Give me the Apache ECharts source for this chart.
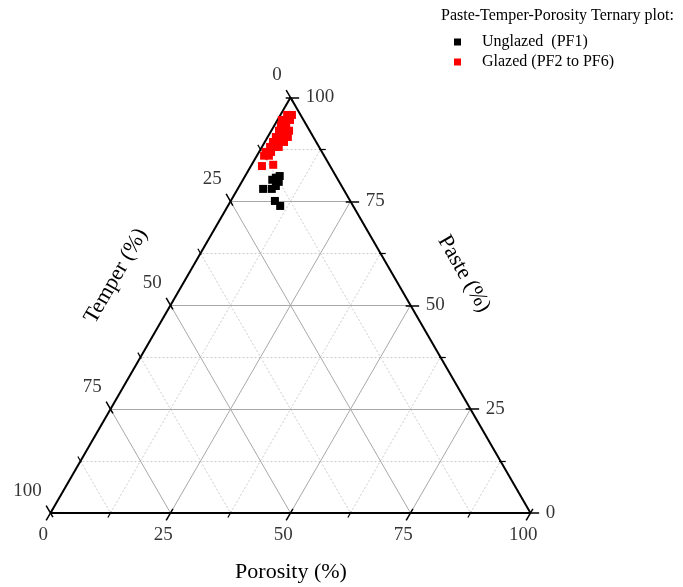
<!DOCTYPE html>
<html>
<head>
<meta charset="utf-8">
<script src="https://cdn.jsdelivr.net/npm/echarts@6/dist/echarts.min.js"></script>
<style>html,body{margin:0;padding:0;background:#fff}#c{width:683px;height:587px}</style>
</head>
<body>
<div id="c"></div>
<script>
// ---- data: [paste, temper, porosity] (%) ----
const unglazed = [
  [81.1,11.6,7.2],[80.2,13.8,6.1],[79.7,12.6,7.7],[80.7,12.7,6.6],[78.7,13.7,7.6],
  [78.0,14.9,7.1],[78.0,16.7,5.3],[75.1,15.7,9.2],[73.9,15.2,10.9]
];
const glazed = [
  [95.8,1.8,2.4],[95.8,2.8,1.4],[94.6,3.6,1.8],[94.6,2.8,2.6],[94.6,4.5,0.9],
  [93.2,5.4,1.4],[93.2,4.4,2.5],[92.0,6.4,1.6],[92.0,5.4,2.7],[92.0,4.3,3.7],
  [90.5,7.7,1.7],[90.5,6.7,2.8],[90.5,5.3,4.2],[89.3,9.0,1.7],[89.3,7.9,2.7],
  [89.3,6.7,4.0],[88.1,10.2,1.7],[88.1,9.2,2.7],[88.1,8.3,3.5],[86.9,11.7,1.4],
  [86.9,10.6,2.5],[86.0,12.5,1.5],[86.0,11.5,2.5],[83.5,14.2,2.3],[83.8,11.8,4.5]
];
const majorTicks = [0,25,50,75,100];
const minorTicks = [12.5,37.5,62.5,87.5];
const tickLabels = ['0','25','50','75','100'];
const seriesNames = ['Unglazed  (PF1)','Glazed (PF2 to PF6)'];

// ---- ternary -> cartesian data coords ----
const SQ = Math.sqrt(3)/2;
function tern(paste, temper, porosity){ return [porosity + paste/2, paste*SQ]; }

const FONT = 'Liberation Serif';
const inner = majorTicks.filter(v=>v>0&&v<100);

function gridLines(vals){
  const out=[];
  vals.forEach(v=>{
    out.push({coords:[tern(0,100-v,v), tern(100-v,0,v)]});      // const porosity
    out.push({coords:[tern(100-v,v,0), tern(0,v,100-v)]});      // const temper
    out.push({coords:[tern(v,0,100-v), tern(v,100-v,0)]});      // const paste
  });
  return out;
}
function ticks(vals, kin, kout){
  const out=[];
  vals.forEach(v=>{
    out.push({coords:[tern(kin,100-v-kin,v), tern(-kout,100-v+kout,v)]});
    out.push({coords:[tern(100-v-kin,v,kin), tern(100-v+kout,v,-kout)]});
    out.push({coords:[tern(v,kin,100-v-kin), tern(v,-kout,100-v+kout)]});
  });
  return out;
}
const edges = [
  {coords:[tern(0,100,0), tern(0,0,100)]},
  {coords:[tern(0,0,100), tern(100,0,0)]},
  {coords:[tern(100,0,0), tern(0,100,0)]}
];

const porLabels = majorTicks.map((v,i)=>({value:[v-1.5,-4.5], name:tickLabels[i]}));
const temLabels = majorTicks.map((v,i)=>{ const p=tern(100-v,v,0); return {value:[p[0]-1.8,p[1]+4.6], name:tickLabels[i]}; });
const pasLabels = majorTicks.map((v,i)=>{ const p=tern(v,0,100-v); return {value:[p[0]+3.2,p[1]], name:tickLabels[i]}; });

function labelSeries(data, pos){
  return {type:'scatter', data, symbolSize:0, silent:true, clip:false,
    label:{show:true, position:pos, distance:0, formatter:p=>p.name,
      fontFamily:FONT, fontSize:19, color:'#000', textBorderWidth:0}};
}

const chart = echarts.init(document.getElementById('c'));
chart.setOption({
  animation:false,
  grid:{left:50.5, right:152.5, top:97.5, bottom:74},
  xAxis:{type:'value', min:0, max:100, show:false},
  yAxis:{type:'value', min:0, max:100*SQ, show:false},
  legend:{
    orient:'vertical', left:454, top:34, padding:0, itemGap:4,
    itemWidth:7, itemHeight:7, icon:'rect',
    data:seriesNames,
    itemStyle:{opacity:1},
    textStyle:{fontFamily:FONT, fontSize:16, color:'#000', padding:[0,0,0,16]}
  },
  graphic:[
    {type:'text', left:441, top:8, style:{text:'Paste-Temper-Porosity Ternary plot:', font:'16px "Liberation Serif"', fill:'#000'}},
    {type:'text', x:291, y:572, style:{text:'Porosity (%)', font:'22px "Liberation Serif"', fill:'#000', align:'center', verticalAlign:'middle'}},
    {type:'text', x:116, y:276, rotation:Math.PI/3, style:{text:'Temper (%)', font:'22px "Liberation Serif"', fill:'#000', align:'center', verticalAlign:'middle'}},
    {type:'text', x:464, y:274, rotation:-Math.PI/3, style:{text:'Paste (%)', font:'22px "Liberation Serif"', fill:'#000', align:'center', verticalAlign:'middle'}}
  ],
  series:[
    {type:'lines', coordinateSystem:'cartesian2d', silent:true, clip:false, data:gridLines(minorTicks),
      lineStyle:{color:'#cccccc', width:1, type:[2,2], opacity:1}},
    {type:'lines', coordinateSystem:'cartesian2d', silent:true, clip:false, data:gridLines(inner),
      lineStyle:{color:'#a8a8a8', width:1, type:'solid', opacity:1}},
    {type:'lines', coordinateSystem:'cartesian2d', silent:true, clip:false, data:ticks(majorTicks,1.0,1.8),
      lineStyle:{color:'#000', width:1.5, opacity:1}},
    {type:'lines', coordinateSystem:'cartesian2d', silent:true, clip:false, data:ticks(minorTicks,0.3,1.1),
      lineStyle:{color:'#000', width:1.2, opacity:1}},
    {type:'lines', coordinateSystem:'cartesian2d', silent:true, clip:false, data:edges,
      lineStyle:{color:'#000', width:2, opacity:1}},
    labelSeries(porLabels,'inside'),
    labelSeries(temLabels,'left'),
    labelSeries(pasLabels,'right'),
    {name:seriesNames[0], type:'scatter', symbol:'rect', symbolSize:8, clip:false,
      itemStyle:{color:'#000', opacity:1}, data:unglazed.map(d=>tern(d[0],d[1],d[2]))},
    {name:seriesNames[1], type:'scatter', symbol:'rect', symbolSize:8, clip:false,
      itemStyle:{color:'#ff0000', opacity:1}, data:glazed.map(d=>tern(d[0],d[1],d[2]))}
  ]
});
</script>
</body>
</html>
